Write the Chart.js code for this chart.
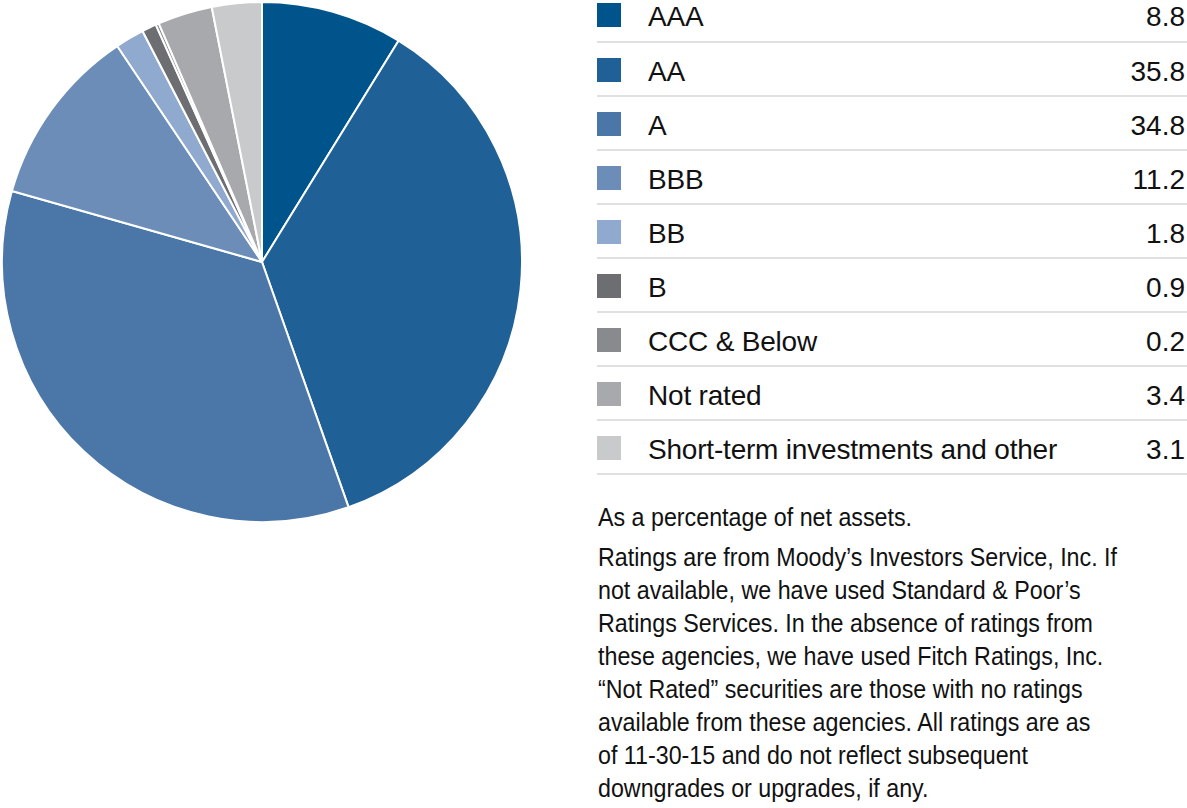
<!DOCTYPE html>
<html>
<head>
<meta charset="utf-8">
<script src="https://cdn.jsdelivr.net/npm/chart.js@4.4.0/dist/chart.umd.min.js"></script>
<style>
  html, body { margin: 0; padding: 0; background: #fff; }
  body { width: 1187px; height: 808px; position: relative; overflow: hidden;
         font-family: "Liberation Sans Narrow", "Liberation Sans", sans-serif; color: #111; }
  #pieBox { position: absolute; left: 0; top: 0; width: 524px; height: 524px; }
  #legend { position: absolute; left: 597px; top: 0; width: 590px; }
  .row { position: relative; height: 54px; border-bottom: 2px solid #e0e0e0; box-sizing: border-box; }
  .row:first-child { height: 43px; }
  .sw { position: absolute; left: 0; width: 24px; height: 24px; }
  .lbl { position: absolute; left: 51px; font-size: 28px; line-height: 30px; letter-spacing: -0.2px; }
  .val { position: absolute; right: 2px; font-size: 28px; line-height: 30px; }
  #notes { position: absolute; left: 598px; top: 501px; font-size: 25px; line-height: 33px;
           transform: scaleX(0.93); transform-origin: left top; white-space: nowrap; }
  #notes p { margin: 0 0 7px 0; }
</style>
</head>
<body>
<div id="pieBox"><canvas id="pie" width="524" height="524"></canvas></div>
<div id="legend"></div>
<div id="notes">
  <p>As a percentage of net assets.</p>
  <p>Ratings are from Moody’s Investors Service, Inc. If<br>not available, we have used Standard &amp; Poor’s<br>Ratings Services. In the absence of ratings from<br>these agencies, we have used Fitch Ratings, Inc.<br>“Not Rated” securities are those with no ratings<br>available from these agencies. All ratings are as<br>of 11-30-15 and do not reflect subsequent<br>downgrades or upgrades, if any.</p>
</div>
<script>
// --- Data ---
const categories = ['AAA', 'AA', 'A', 'BBB', 'BB', 'B', 'CCC & Below', 'Not rated', 'Short-term investments and other'];
const weights = [8.8, 35.8, 34.8, 11.2, 1.8, 0.9, 0.2, 3.4, 3.1];
const colors = ['#00548c', '#1f6197', '#4a77a8', '#6c8db8', '#8fa9cf', '#6d6e71', '#898a8d', '#a7a9ac', '#c9cacc'];

// --- Legend table ---
const legend = document.getElementById('legend');
categories.forEach((name, i) => {
    const row = document.createElement('div');
    row.className = 'row';
    const off = i === 0 ? 3 : 15;
    row.innerHTML =
        `<div class="sw" style="background:${colors[i]};top:${off}px"></div>` +
        `<div class="lbl" style="top:${off - 1}px">${name.replace('&', '&amp;')}</div>` +
        `<div class="val" style="top:${off - 1}px">${weights[i].toFixed(1)}</div>`;
    legend.appendChild(row);
});

// --- Pie ---
new Chart(document.getElementById('pie').getContext('2d'), {
    type: 'pie',
    data: {
        labels: categories,
        datasets: [{
            data: weights,
            backgroundColor: colors,
            borderColor: '#ffffff',
            borderWidth: 2
        }]
    },
    options: {
        responsive: false,
        animation: false,
        radius: 260,
        layout: { padding: 0 },
        plugins: { legend: { display: false }, tooltip: { enabled: false } }
    }
});
</script>
</body>
</html>
